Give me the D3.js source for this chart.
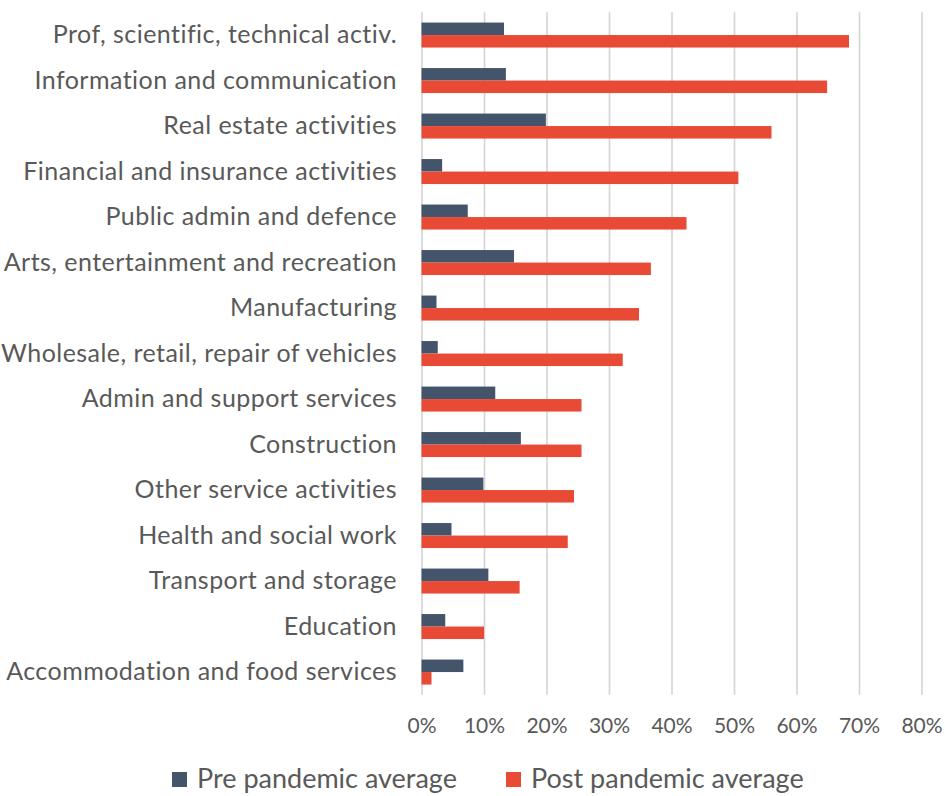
<!DOCTYPE html>
<html>
<head>
<meta charset="utf-8">
<script src="https://d3js.org/d3.v7.min.js"></script>
<style>
  body { margin: 0; background: #fff; }
  svg text { font-family: Lato, "Open Sans", sans-serif; fill: #595959; }
</style>
</head>
<body>
<svg width="945" height="796"></svg>
<script>
const categories = [
  "Prof, scientific, technical activ.",
  "Information and communication",
  "Real estate activities",
  "Financial and insurance activities",
  "Public admin and defence",
  "Arts, entertainment and recreation",
  "Manufacturing",
  "Wholesale, retail, repair of vehicles",
  "Admin and support services",
  "Construction",
  "Other service activities",
  "Health and social work",
  "Transport and storage",
  "Education",
  "Accommodation and food services"
];
const prePandemic  = [13.2, 13.5, 19.9, 3.3, 7.4, 14.8, 2.4, 2.6, 11.8, 15.9, 9.9, 4.8, 10.7, 3.8, 6.7];
const postPandemic = [68.4, 64.9, 56.0, 50.7, 42.4, 36.7, 34.8, 32.2, 25.6, 25.6, 24.4, 23.4, 15.7, 10.0, 1.6];
const tickValues = [0, 10, 20, 30, 40, 50, 60, 70, 80];
const seriesNames = ["Pre pandemic average", "Post pandemic average"];

const colors = {pre: "#44546a", post: "#e84a36"};

const svg = d3.select("svg");

//--------------SCALES---------------------------------------
const x = d3.scaleLinear()
            .domain([0, 80])
            .range([421.5, 921.5]);

const y = d3.scaleBand()
            .domain(categories)
            .range([12.3, 694.8]);

const inner = d3.scaleBand()
                .domain(["pre", "post"])
                .range([0, 25])
                .padding(0);

//--------------GRID----------------------------------------
const grid = d3.axisBottom(x)
               .tickValues(tickValues)
               .tickSize(y.range()[1] - y.range()[0])
               .tickFormat(d => d + "%");

const gx = svg.append("g")
              .attr("transform", "translate(0," + y.range()[0] + ")")
              .call(grid);
gx.select(".domain").remove();
gx.selectAll(".tick line")
  .attr("stroke", "#d4d4d4")
  .attr("stroke-width", 1.6);
gx.selectAll(".tick text")
  .attr("y", y.range()[1] - y.range()[0] + 38)
  .attr("dy", 0)
  .style("font-size", "21px")
  .style("font-family", "Lato, sans-serif")
  .attr("fill", "#595959");

//--------------CATEGORY LABELS------------------------------
svg.append("g")
   .selectAll("text")
   .data(categories)
   .enter().append("text")
   .attr("x", 397)
   .attr("y", d => y(d) + y.bandwidth() / 2)
   .attr("dy", "0.33em")
   .attr("text-anchor", "end")
   .style("font-size", "25px")
   .style("letter-spacing", "0.45px")
   .text(d => d);

//--------------BARS-----------------------------------------
const rows = categories.map((c, i) => ({cat: c, pre: prePandemic[i], post: postPandemic[i]}));
const offset = (y.bandwidth() - inner.range()[1]) / 2;

svg.append("g")
   .selectAll("g")
   .data(rows)
   .enter().append("g")
   .attr("transform", d => `translate(0,${y(d.cat) + offset})`)
   .selectAll("rect")
   .data(d => ["pre", "post"].map(k => ({key: k, value: d[k]})))
   .enter().append("rect")
   .attr("x", x(0))
   .attr("y", d => inner(d.key))
   .attr("width", d => x(d.value) - x(0))
   .attr("height", inner.bandwidth())
   .attr("fill", d => colors[d.key]);

//--------------LEGEND---------------------------------------
const legendX = [172, 506];
const legend = svg.append("g")
   .selectAll("g")
   .data(["pre", "post"])
   .enter().append("g")
   .attr("transform", (d, i) => `translate(${legendX[i]},772)`);
legend.append("rect")
   .attr("width", 15)
   .attr("height", 15)
   .attr("fill", d => colors[d]);
legend.append("text")
   .attr("x", 25)
   .attr("y", 16)
   .style("font-size", "27px")
   .text((d, i) => seriesNames[i]);
</script>
</body>
</html>
